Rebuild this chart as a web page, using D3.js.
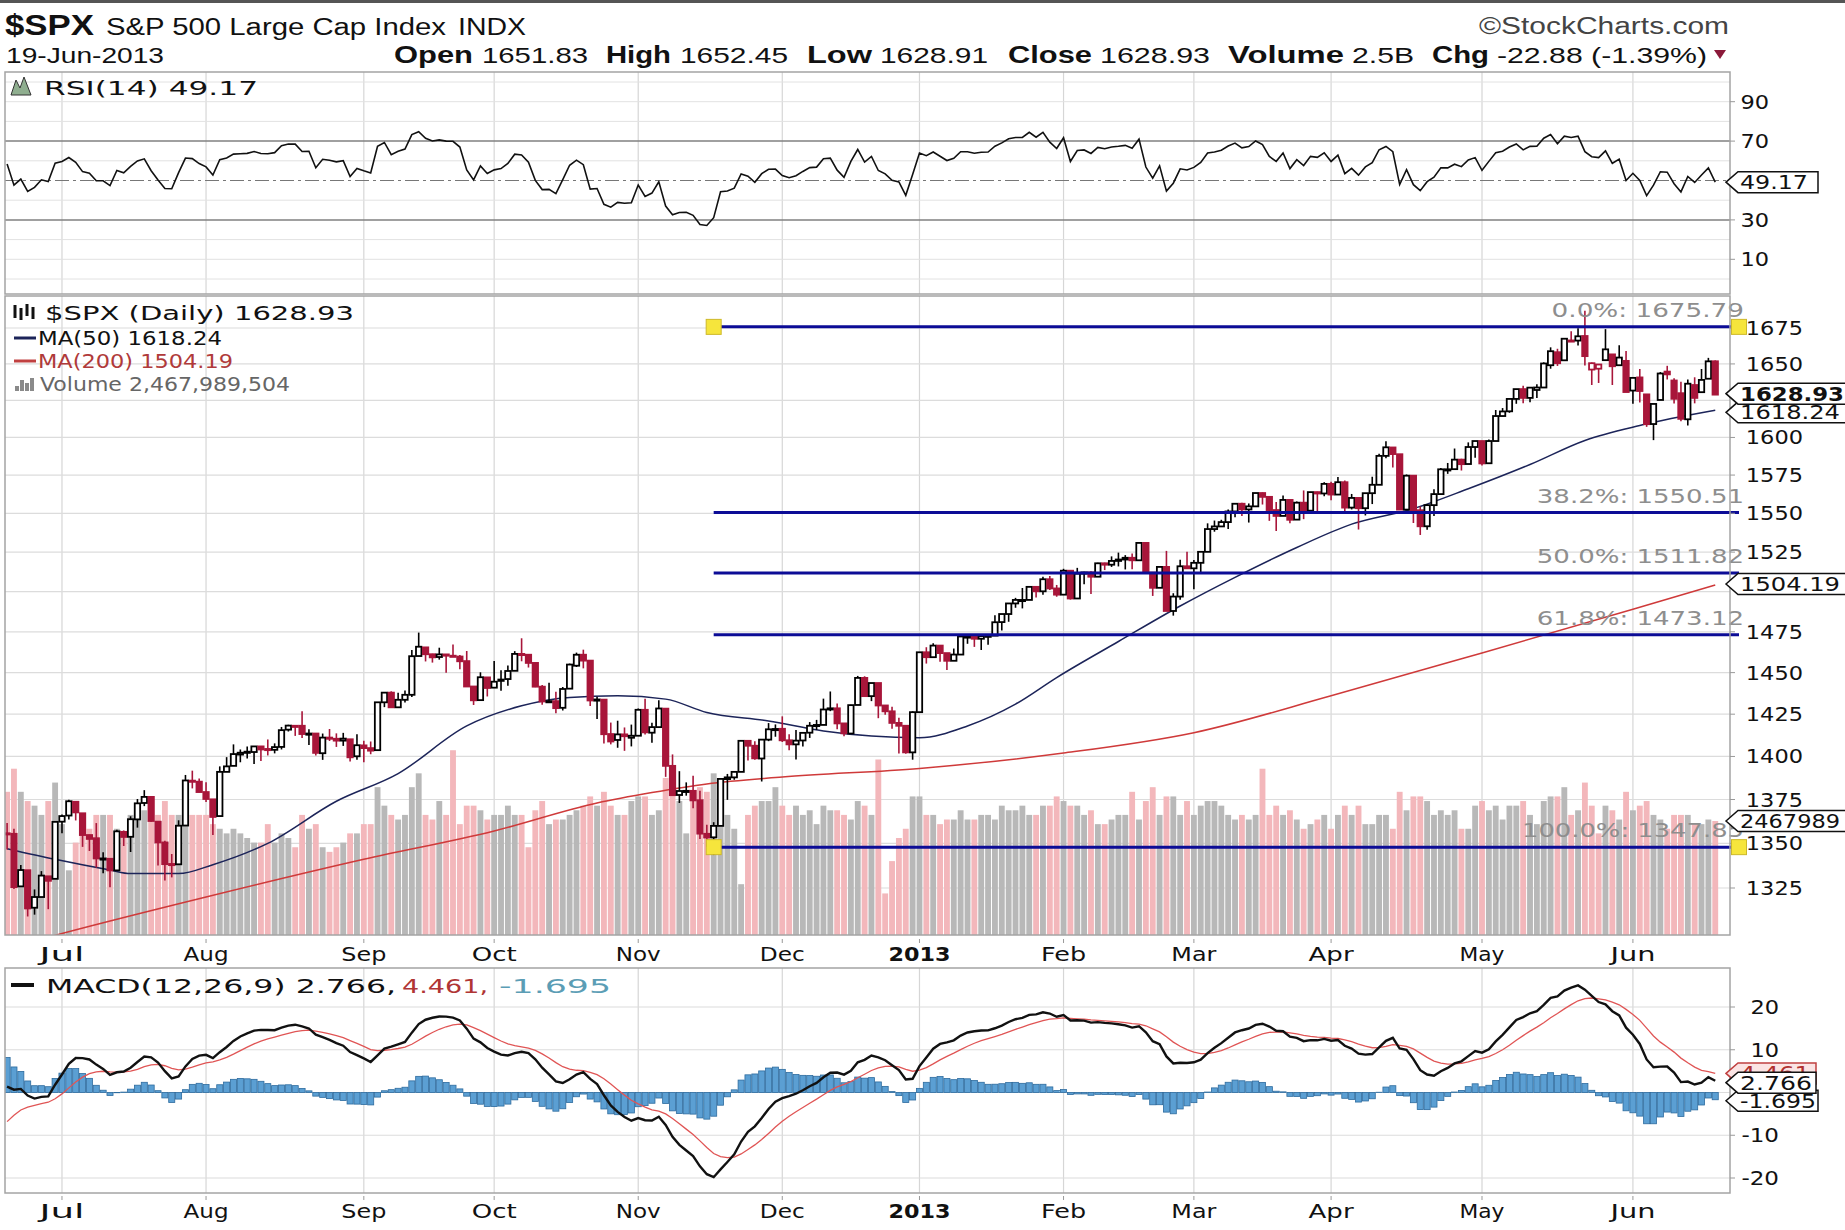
<!DOCTYPE html>
<html>
<head>
<meta charset="utf-8">
<script src="https://cdnjs.cloudflare.com/ajax/libs/d3/7.8.5/d3.min.js"></script>
<style>
body { margin: 0; background: #fff; }
svg { display: block; }
</style>
</head>
<body>
<div id="chart"></div>
<script>
// daily rows: [open, high, low, close, volume (billions)]
var ohlcJun12 = [
  [1355.4,1361.6,1346.5,1355.7,3.1],[1355.4,1358.3,1324.4,1325.5,3.6],[1325.9,1337.8,1325.9,1335.0,3.1],
  [1334.9,1334.9,1309.3,1313.7,2.9],[1314.1,1324.2,1310.3,1320.0,2.8],[1320.0,1334.4,1320.0,1331.9,2.6],
  [1331.5,1331.5,1313.3,1329.0,2.9],[1330.1,1362.2,1330.1,1362.2,3.3]];
var ohlcJul12 = [
  [1362.3,1366.4,1355.7,1365.5,2.4],[1365.8,1374.8,1363.5,1374.0,1.4],[1373.7,1373.9,1363.0,1367.6,2.0],
  [1367.1,1367.1,1348.0,1354.7,2.5],[1354.7,1354.9,1345.7,1352.5,2.3],[1352.9,1361.5,1336.3,1341.5,2.6],
  [1341.4,1345.0,1333.2,1341.5,2.6],[1341.3,1341.3,1325.4,1334.8,2.6],[1334.8,1357.7,1334.8,1356.8,2.3],
  [1356.5,1357.3,1348.5,1353.6,2.1],[1353.7,1365.4,1345.1,1363.7,2.6],[1363.6,1375.3,1358.9,1372.8,2.6],
  [1373.0,1380.4,1371.2,1376.5,2.7],[1376.5,1376.5,1362.2,1362.7,2.7],[1362.3,1362.3,1337.6,1350.5,2.6],
  [1350.5,1351.5,1329.2,1338.3,2.9],[1338.4,1344.0,1330.9,1337.9,2.6],[1338.2,1363.1,1338.2,1360.0,2.6],
  [1360.1,1389.2,1360.1,1386.0,3.0],[1385.9,1391.7,1381.4,1385.3,2.6],[1385.3,1387.2,1379.2,1379.3,2.6]];
var ohlcAug12 = [
  [1379.3,1385.0,1373.6,1375.3,2.6],[1375.1,1375.1,1354.7,1365.0,2.4],[1365.5,1394.2,1365.5,1391.0,2.3],
  [1391.0,1399.6,1391.0,1394.2,2.2],[1394.5,1407.1,1394.5,1401.4,2.3],[1401.1,1404.1,1396.6,1402.2,2.2],
  [1402.2,1405.9,1398.8,1402.8,2.1],[1402.6,1405.9,1395.6,1405.9,2.0],[1405.9,1405.9,1397.3,1404.1,2.0],
  [1404.4,1410.0,1400.6,1403.9,2.4],[1403.9,1407.7,1401.8,1405.5,2.0],[1405.6,1417.4,1404.1,1415.5,2.2],
  [1415.8,1418.7,1414.7,1418.2,2.1],[1417.9,1418.1,1412.1,1418.1,1.9],[1418.1,1426.7,1410.9,1413.2,2.6],
  [1413.1,1416.1,1406.8,1413.5,2.3],[1413.5,1413.5,1400.5,1402.1,2.4],[1401.9,1413.5,1398.0,1411.1,1.9],
  [1411.1,1416.2,1409.1,1410.4,1.8],[1410.4,1413.6,1405.6,1409.3,1.9],[1409.3,1413.9,1406.2,1410.5,2.0],
  [1410.1,1410.1,1397.0,1399.5,2.2],[1400.1,1413.1,1398.0,1406.6,2.2]];
var ohlcSep12 = [
  [1406.5,1409.3,1396.6,1404.9,2.4],[1404.9,1408.8,1401.3,1403.4,2.4],[1403.7,1432.1,1403.7,1432.1,3.2],
  [1432.1,1438.0,1429.2,1437.9,2.8],[1437.9,1438.7,1428.9,1429.1,2.6],[1429.1,1437.8,1429.1,1433.6,2.5],
  [1433.6,1439.2,1432.0,1436.6,2.6],[1436.6,1463.8,1435.3,1460.0,3.2],[1460.1,1474.5,1460.1,1465.8,3.5],
  [1465.4,1465.6,1456.8,1461.2,2.6],[1461.2,1461.5,1456.1,1459.3,2.5],[1459.5,1465.2,1457.9,1461.1,2.9],
  [1461.1,1461.2,1449.9,1460.3,2.6],[1460.3,1467.1,1459.5,1460.2,4.0],[1459.8,1460.7,1452.1,1456.9,2.4],
  [1457.0,1463.2,1441.6,1441.6,2.8],[1441.6,1441.6,1430.5,1433.3,2.8],[1433.4,1450.2,1433.4,1447.2,2.7],
  [1447.1,1447.1,1435.6,1440.7,2.5]];
var ohlcOct12 = [
  [1440.9,1457.1,1440.9,1444.5,2.6],[1445.0,1451.5,1439.0,1445.8,2.6],[1446.1,1454.3,1442.0,1451.0,2.8],
  [1451.1,1463.1,1451.1,1461.4,2.6],[1461.4,1471.0,1456.9,1460.9,2.6],[1460.9,1460.9,1453.1,1455.9,1.9],
  [1455.9,1455.9,1441.2,1441.5,2.7],[1441.5,1442.5,1430.6,1432.6,2.9],[1432.8,1443.9,1432.8,1432.8,2.4],
  [1432.8,1438.4,1425.5,1428.6,2.5],[1428.8,1441.3,1427.2,1440.1,2.5],[1440.3,1455.5,1440.3,1454.9,2.6],
  [1454.2,1462.2,1453.4,1460.9,2.7],[1460.9,1464.0,1452.6,1457.3,2.8],[1457.3,1457.3,1429.9,1433.2,3.0],
  [1433.2,1435.5,1422.1,1433.8,2.8],[1433.7,1433.7,1407.6,1413.1,3.1],[1413.2,1420.0,1407.1,1408.8,2.8],
  [1409.7,1421.1,1405.1,1413.0,2.6],[1413.0,1417.1,1403.3,1411.9,2.6],[1411.0,1418.8,1405.9,1412.2,2.9]];
var ohlcNov12 = [
  [1412.2,1428.4,1412.2,1427.6,3.0],[1427.6,1434.3,1412.9,1414.2,3.0],[1414.0,1419.9,1408.1,1417.3,2.6],
  [1417.3,1433.4,1417.3,1428.4,2.7],[1428.3,1428.3,1388.1,1394.5,3.4],[1394.5,1401.2,1377.5,1377.5,3.1],
  [1377.6,1391.4,1373.0,1379.9,2.9],[1379.9,1384.9,1377.2,1380.0,2.2],[1380.0,1388.8,1370.0,1374.5,2.9],
  [1374.6,1380.1,1352.5,1355.5,3.2],[1355.4,1360.6,1348.1,1353.3,3.1],[1353.4,1362.0,1343.4,1359.9,3.5],
  [1359.9,1386.9,1359.9,1386.9,2.6],[1386.8,1389.8,1374.8,1387.8,2.6],[1387.8,1391.3,1386.4,1391.0,2.3],
  [1391.0,1409.2,1391.0,1409.2,1.1],[1409.2,1409.2,1397.7,1406.3,2.6],[1406.3,1409.0,1398.0,1398.9,2.8],
  [1398.8,1410.0,1385.4,1409.9,2.9],[1409.9,1419.7,1409.0,1416.0,2.9],[1416.0,1418.9,1411.6,1416.2,3.2]];
var ohlcDec12 = [
  [1416.3,1423.7,1408.5,1409.5,2.8],[1409.5,1413.1,1403.7,1407.1,2.6],[1407.1,1415.6,1398.2,1409.3,2.8],
  [1409.4,1413.9,1405.9,1413.9,2.6],[1414.0,1420.3,1410.9,1418.1,2.7],[1418.1,1421.6,1415.6,1418.6,2.4],
  [1418.6,1434.3,1418.6,1427.8,2.8],[1427.8,1438.6,1426.8,1428.5,2.7],[1428.5,1431.4,1416.0,1419.5,2.7],
  [1419.5,1419.5,1411.9,1413.6,2.6],[1413.5,1430.7,1413.5,1430.4,2.5],[1430.5,1448.0,1430.5,1446.8,2.9],
  [1446.8,1447.8,1435.8,1435.8,2.8],[1435.8,1443.7,1432.8,1443.7,2.6],[1443.7,1443.7,1422.6,1430.2,3.8],
  [1430.2,1430.2,1424.7,1426.7,0.9],[1426.7,1429.4,1416.4,1419.8,1.6],[1419.8,1422.8,1401.8,1418.1,2.1],
  [1418.1,1418.1,1401.6,1402.4,2.3],[1402.4,1426.7,1398.1,1426.2,3.0]];
var ohlcJan13 = [
  [1426.2,1462.4,1426.2,1462.4,3.0],[1462.4,1465.5,1455.5,1459.4,2.6],[1459.4,1467.9,1459.0,1466.5,2.6],
  [1466.5,1466.5,1456.6,1461.9,2.4],[1461.9,1461.9,1451.6,1457.2,2.5],[1457.2,1464.7,1457.2,1461.0,2.5],
  [1461.0,1472.3,1461.0,1472.1,2.7],[1472.1,1472.8,1467.6,1472.1,2.5],[1472.1,1472.1,1465.7,1470.7,2.5],
  [1470.7,1473.3,1463.8,1472.3,2.6],[1472.3,1473.0,1467.0,1472.6,2.6],[1472.6,1485.2,1472.6,1480.9,2.5],
  [1481.0,1486.0,1475.8,1486.0,2.8],[1486.0,1492.6,1481.2,1492.6,2.7],[1492.6,1496.1,1489.9,1494.8,2.7],
  [1494.8,1502.3,1489.5,1494.8,2.8],[1494.8,1503.3,1494.8,1503.0,2.6],[1503.0,1503.2,1496.3,1500.2,2.6],
  [1500.2,1509.3,1498.1,1507.8,2.8],[1507.8,1509.9,1501.0,1502.0,2.8],[1502.0,1504.2,1496.8,1498.1,3.0]];
var ohlcFeb13 = [
  [1498.1,1514.4,1498.1,1513.2,2.9],[1513.2,1513.2,1495.0,1495.7,2.8],[1495.7,1515.0,1495.7,1511.3,2.8],
  [1511.3,1512.5,1504.7,1512.1,2.6],[1512.1,1512.9,1498.5,1509.4,2.7],[1509.4,1518.3,1509.4,1517.9,2.4],
  [1517.9,1518.3,1513.6,1517.0,2.4],[1517.0,1522.3,1515.6,1519.4,2.5],[1519.4,1524.7,1515.9,1520.3,2.6],
  [1520.3,1523.1,1514.0,1521.4,2.6],[1521.4,1524.2,1514.1,1519.8,3.1],[1519.8,1530.9,1519.8,1530.9,2.5],
  [1530.9,1530.9,1511.4,1512.0,2.9],[1512.0,1512.0,1497.3,1502.4,3.2],[1502.4,1515.6,1502.4,1515.6,2.6],
  [1515.6,1525.8,1487.9,1487.9,3.0],[1487.9,1499.0,1485.0,1496.9,3.0],[1496.9,1520.1,1494.9,1516.0,2.6],
  [1516.0,1525.3,1514.5,1514.7,2.9]];
var ohlcMar13 = [
  [1514.7,1520.0,1501.5,1518.2,2.6],[1518.2,1525.3,1512.3,1525.2,2.8],[1525.2,1543.5,1525.2,1539.8,2.9],
  [1539.8,1545.3,1538.1,1541.5,2.9],[1541.5,1545.8,1541.5,1544.3,2.8],[1544.3,1552.5,1539.9,1551.2,2.6],
  [1551.2,1556.3,1547.4,1556.2,2.5],[1556.2,1556.8,1548.2,1552.5,2.6],[1552.5,1556.4,1544.0,1554.5,2.5],
  [1554.5,1563.3,1554.5,1563.2,2.6],[1563.2,1563.6,1555.7,1560.7,3.6],[1560.7,1560.7,1545.1,1552.1,2.6],
  [1552.1,1557.3,1538.6,1548.3,2.8],[1548.3,1561.6,1548.3,1558.7,2.6],[1558.7,1558.7,1543.6,1545.8,2.7],
  [1545.9,1557.7,1545.9,1556.9,2.5],[1556.9,1564.9,1546.2,1551.7,2.3],[1551.7,1563.9,1551.7,1563.8,2.4],
  [1563.8,1564.1,1551.5,1562.9,2.5],[1562.9,1570.3,1561.1,1569.2,2.6]];
var ohlcApr13 = [
  [1569.2,1570.6,1558.5,1562.2,2.3],[1562.2,1573.7,1562.2,1570.3,2.6],[1570.3,1571.5,1549.8,1553.7,2.8],
  [1553.7,1562.6,1552.5,1560.0,2.6],[1560.0,1560.0,1539.5,1553.3,2.8],[1553.3,1563.1,1548.6,1563.1,2.4],
  [1563.1,1573.9,1556.0,1568.6,2.4],[1568.6,1589.1,1568.6,1587.7,2.6],[1587.7,1597.4,1586.2,1593.4,2.6],
  [1593.3,1593.3,1580.0,1588.9,2.3],[1588.8,1588.8,1552.3,1552.4,3.1],[1552.4,1575.4,1552.4,1574.6,2.7],
  [1574.6,1574.6,1543.7,1552.0,3.0],[1552.0,1554.4,1536.0,1541.6,3.0],[1541.6,1555.9,1539.4,1555.3,2.9],
  [1555.3,1565.6,1548.2,1562.5,2.6],[1562.5,1579.6,1562.5,1578.8,2.7],[1578.8,1583.0,1575.8,1578.8,2.6],
  [1578.9,1592.6,1578.9,1585.2,2.7],[1585.2,1585.8,1578.0,1582.2,2.3],[1582.3,1596.7,1582.3,1593.6,2.3],
  [1593.6,1597.6,1586.5,1597.6,2.8]];
var ohlcMay13 = [
  [1597.6,1597.6,1581.3,1582.7,2.9],[1582.8,1598.6,1582.8,1597.6,2.7],[1597.6,1618.5,1597.6,1614.4,2.8],
  [1614.4,1619.8,1614.2,1617.5,2.5],[1617.6,1626.0,1616.6,1626.0,2.8],[1626.0,1632.8,1622.7,1632.7,2.8],
  [1632.7,1635.0,1623.1,1626.7,2.9],[1626.7,1633.7,1623.7,1633.7,2.6],[1632.1,1636.0,1626.7,1633.8,2.4],
  [1633.8,1651.1,1633.8,1650.3,2.9],[1649.1,1661.5,1646.7,1658.8,3.0],[1658.1,1660.5,1648.6,1650.5,3.0],
  [1652.5,1667.5,1652.5,1667.5,3.2],[1665.7,1672.8,1666.3,1666.3,2.6],[1666.2,1674.9,1662.7,1669.2,2.7],
  [1669.4,1687.2,1648.9,1655.4,3.3],[1646.1,1651.0,1635.5,1650.5,2.8],[1646.7,1649.8,1636.9,1649.6,2.2],
  [1652.6,1674.2,1652.6,1660.1,2.8],[1656.6,1656.6,1635.5,1648.4,2.7],[1649.1,1662.9,1649.1,1654.4,2.5],
  [1652.1,1659.0,1630.7,1630.7,3.1]];
var ohlcJun13 = [
  [1631.7,1640.4,1622.7,1640.4,2.7],[1640.7,1646.5,1623.6,1631.4,2.8],[1629.1,1629.3,1607.1,1608.9,2.9],
  [1609.0,1622.6,1598.2,1622.6,2.6],[1625.3,1644.4,1625.3,1643.4,2.5],[1644.7,1648.7,1639.3,1642.8,2.3],
  [1638.6,1640.1,1622.9,1626.1,2.6],[1629.9,1637.7,1610.9,1612.5,2.6],[1612.2,1639.3,1608.1,1636.4,2.6],
  [1635.5,1640.8,1623.0,1626.7,2.4],[1630.6,1646.5,1630.3,1639.0,2.4],[1639.8,1654.2,1639.8,1651.8,2.5],
  [1651.83,1652.45,1628.91,1628.93,2.468]];

// closes before the first plotted day (Apr 2 - Jun 19 2012), used only for RSI / MACD warm-up
var warmupCloses = [1419.0,1413.4,1399.0,1398.1,1382.2,1358.6,1368.7,1387.6,1370.3,1369.6,1390.8,1385.1,1376.9,1378.5,
  1366.9,1372.0,1390.7,1400.0,1403.4,1397.9,
  1405.8,1402.3,1391.6,1369.1,1369.6,1363.7,1354.6,1358.0,1353.4,1338.4,1330.7,1324.8,1304.9,1295.2,1316.0,1316.6,
  1318.9,1320.7,1317.8,1332.4,1313.3,1310.3,
  1278.0,1278.2,1285.5,1315.1,1315.0,1325.7,1308.9,1324.2,1314.9,1329.1,1342.8,1344.8,1358.0];

var monthNames = [null, "Jul", "Aug", "Sep", "Oct", "Nov", "Dec", "2013", "Feb", "Mar", "Apr", "May", "Jun"];
var monthRows = [ohlcJun12, ohlcJul12, ohlcAug12, ohlcSep12, ohlcOct12, ohlcNov12, ohlcDec12,
  ohlcJan13, ohlcFeb13, ohlcMar13, ohlcApr13, ohlcMay13, ohlcJun13];

// moving averages: [day index, value]
var ma50Points = [[0,1347],[7,1341],[15,1335],[18,1333],[25,1333],[30,1338],[38,1350],[48,1374],[57,1390],
  [67,1418],[75,1430],[82,1435],[89,1436],[96,1434],[102,1426],[111,1421],[119,1415],[126,1412],[133,1411],
  [140,1418],[147,1431],[153,1447],[162,1469],[171,1491],[179,1509],[188,1528],[196,1543],[205,1553],
  [213,1566],[222,1582],[230,1598],[238,1608],[249,1618.24]];
var ma200Points = [[0,1292],[8,1300],[29,1320],[52,1341],[71,1357],[86,1373],[94,1379],[102,1384],[113,1388],
  [133,1393],[154,1402],[173,1414],[193,1436],[215,1462],[237,1489],[249,1504.19]];

var fibLevels = [["0.0%", 1675.79], ["38.2%", 1550.51], ["50.0%", 1511.82], ["61.8%", 1473.12], ["100.0%", 1347.85]];
var fibStartDay = 103;

var priceTicks = [1325,1350,1375,1400,1425,1450,1475,1500,1525,1550,1575,1600,1625,1650,1675];
var priceLabels = [1325,1350,1375,1400,1425,1450,1475,1525,1550,1575,1600,1650,1675];
var rsiLabels = [10,30,70,90];
var rsiGrid = [0,10,20,40,60,80,90,100];
var macdTicks = [-20,-10,0,10,20];
var macdLabels = [-20,-10,10,20];

var headerStats = [["Open","1651.83"],["High","1652.45"],["Low","1628.91"],["Close","1628.93"],["Volume","2.5B"],["Chg","-22.88 (-1.39%)"]];

// ---------------------------------------------------------------
var W = 1845, H = 1230;
var L = 5, R = 1730;
var rsiTop = 72, rsiBot = 294, pTop = 296, pBot = 935, mTop = 968, mBot = 1193;
var red = "#a8163a";

var candles = [], monthStart = [];
monthRows.forEach(function (rows) { monthStart.push(candles.length); candles = candles.concat(rows); });
var N = candles.length;

var svg = d3.select("#chart").append("svg").attr("width", W).attr("height", H);
svg.append("rect").attr("width", W).attr("height", H).attr("fill", "#fff");
svg.append("rect").attr("width", W).attr("height", 3).attr("fill", "#555");

var x = d3.scaleLinear().domain([0, N - 1]).range([7.1, 7.1 + (N - 1) * 6.86]);
var step = 6.86;
var y = d3.scaleLog().domain([1325, 1675]).range([888, 328]);
var yVol = d3.scaleLinear().domain([0, 2.468]).range([pBot, 821]);
var yRsi = d3.scaleLinear().domain([0, 100]).range([279, 82]);
var yMacd = d3.scaleLinear().domain([-20, 20]).range([1178, 1007]);

function tx(g, s, px, py, o) {
  o = o || {};
  var t = g.append("text").attr("x", px).attr("y", py).text(s)
    .attr("font-family", o.family || "DejaVu Sans")
    .attr("font-size", o.size || 19)
    .attr("font-weight", o.bold ? "bold" : null)
    .attr("fill", o.fill || "#111")
    .attr("text-anchor", o.anchor || "start");
  if (o.w) t.attr("textLength", o.w).attr("lengthAdjust", "spacingAndGlyphs");
  return t;
}

// indicators
var allCloses = warmupCloses.concat(candles.map(function (d) { return d[3]; }));
function ema(a, n) {
  var k = 2 / (n + 1), e = a[0];
  return a.map(function (v, i) { e = i ? v * k + e * (1 - k) : v; return e; });
}
function rsi(c, n) {
  var out = [], g = 0, l = 0;
  for (var i = 1; i < c.length; i++) {
    var ch = c[i] - c[i - 1], up = Math.max(ch, 0), dn = Math.max(-ch, 0);
    if (i <= n) { g += up / n; l += dn / n; } else { g = (g * (n - 1) + up) / n; l = (l * (n - 1) + dn) / n; }
    out[i] = 100 - 100 / (1 + g / l);
  }
  return out;
}
var off = warmupCloses.length;
var rsiVals = rsi(allCloses, 14).slice(off);
var e12 = ema(allCloses, 12), e26 = ema(allCloses, 26);
var macdAll = e12.map(function (v, i) { return v - e26[i]; });
var sigAll = ema(macdAll, 9);
var macdVals = macdAll.slice(off), sigVals = sigAll.slice(off);

// clips
var defs = svg.append("defs");
[["clipR", rsiTop, rsiBot], ["clipP", pTop, pBot], ["clipM", mTop, mBot]].forEach(function (c) {
  defs.append("clipPath").attr("id", c[0]).append("rect")
    .attr("x", L).attr("y", c[1]).attr("width", R - L).attr("height", c[2] - c[1]);
});

// panel grids
function vgrid(top, bot) {
  svg.append("g").selectAll("line").data(monthStart.slice(1)).enter().append("line")
    .attr("x1", function (i) { return x(i); }).attr("x2", function (i) { return x(i); })
    .attr("y1", top).attr("y2", bot).attr("stroke", "#d6d6d6").attr("stroke-width", 1.2);
}
vgrid(rsiTop, rsiBot); vgrid(pTop, pBot); vgrid(mTop, mBot);

svg.append("g").selectAll("line").data(rsiGrid).enter().append("line")
  .attr("x1", L).attr("x2", R).attr("y1", yRsi).attr("y2", yRsi).attr("stroke", "#e2e2e2");
svg.append("g").selectAll("line").data([30, 70]).enter().append("line")
  .attr("x1", L).attr("x2", R).attr("y1", yRsi).attr("y2", yRsi).attr("stroke", "#808080").attr("stroke-width", 1.5);
svg.append("line").attr("x1", L).attr("x2", R).attr("y1", yRsi(50)).attr("y2", yRsi(50))
  .attr("stroke", "#777").attr("stroke-width", 1.2).attr("stroke-dasharray", "14,4,3,4");

svg.append("g").selectAll("line").data(priceTicks).enter().append("line")
  .attr("x1", L).attr("x2", R).attr("y1", y).attr("y2", y).attr("stroke", "#dcdcdc").attr("stroke-width", 1.2);
svg.append("g").selectAll("line").data(macdTicks).enter().append("line")
  .attr("x1", L).attr("x2", R).attr("y1", yMacd).attr("y2", yMacd).attr("stroke", "#dcdcdc").attr("stroke-width", 1.2);

// RSI line
svg.append("path").datum(rsiVals).attr("clip-path", "url(#clipR)")
  .attr("d", d3.line().x(function (d, i) { return x(i); }).y(function (d) { return yRsi(d); }))
  .attr("fill", "none").attr("stroke", "#111").attr("stroke-width", 1.6);

// price panel
var pg = svg.append("g").attr("clip-path", "url(#clipP)");
function prevClose(i) { return i ? candles[i - 1][3] : warmupCloses[warmupCloses.length - 1]; }

pg.append("g").selectAll("rect").data(candles).enter().append("rect")
  .attr("x", function (d, i) { return x(i) - step / 2 + 0.5; })
  .attr("width", step - 1)
  .attr("y", function (d) { return yVol(d[4]); })
  .attr("height", function (d) { return pBot - yVol(d[4]); })
  .attr("fill", function (d, i) { return d[3] >= prevClose(i) ? "#b8b8b8" : "#f3b7bb"; });

pg.append("path").datum(ma200Points)
  .attr("d", d3.line().curve(d3.curveMonotoneX).x(function (d) { return x(d[0]); }).y(function (d) { return y(d[1]); }))
  .attr("fill", "none").attr("stroke", "#cf3a3a").attr("stroke-width", 1.5);
pg.append("path").datum(ma50Points)
  .attr("d", d3.line().curve(d3.curveMonotoneX).x(function (d) { return x(d[0]); }).y(function (d) { return y(d[1]); }))
  .attr("fill", "none").attr("stroke", "#1c2459").attr("stroke-width", 1.5);

var fx0 = x(fibStartDay), fx1 = R + 9;
svg.append("g").selectAll("line").data(fibLevels).enter().append("line")
  .attr("x1", fx0).attr("x2", fx1).attr("y1", function (d) { return y(d[1]); }).attr("y2", function (d) { return y(d[1]); })
  .attr("stroke", "#0c0c96").attr("stroke-width", 3);

var cg = pg.append("g");
candles.forEach(function (d, i) {
  var col = d[3] >= prevClose(i) ? "#000" : red;
  var hollow = d[3] > d[0];
  cg.append("line").attr("x1", x(i)).attr("x2", x(i)).attr("y1", y(d[1])).attr("y2", y(d[2]))
    .attr("stroke", col).attr("stroke-width", 1.6);
  var top = y(Math.max(d[0], d[3])), bot = y(Math.min(d[0], d[3]));
  cg.append("rect").attr("x", x(i) - 2.7).attr("width", 5.4)
    .attr("y", top).attr("height", Math.max(bot - top, 1.2))
    .attr("fill", hollow ? "#fff" : col).attr("stroke", col).attr("stroke-width", 1.8);
});

fibLevels.forEach(function (d) {
  var s = d[0] + ": " + d3.format(".2f")(d[1]);
  tx(svg, s, 1744, y(d[1]) - 10, { anchor: "end", fill: "#8e8e8e", w: s.length * 14.8 });
});

// macd panel
var mg = svg.append("g").attr("clip-path", "url(#clipM)");
mg.append("g").selectAll("rect").data(macdVals).enter().append("rect")
  .attr("x", function (d, i) { return x(i) - step / 2 + 0.4; })
  .attr("width", step - 0.8)
  .attr("y", function (d, i) { return Math.min(yMacd(d - sigVals[i]), yMacd(0)); })
  .attr("height", function (d, i) { return Math.abs(yMacd(d - sigVals[i]) - yMacd(0)); })
  .attr("fill", "#5b9fd3").attr("stroke", "#2d6b9e").attr("stroke-width", 0.8);
mg.append("path").datum(sigVals)
  .attr("d", d3.line().x(function (d, i) { return x(i); }).y(function (d) { return yMacd(d); }))
  .attr("fill", "none").attr("stroke", "#e05555").attr("stroke-width", 1.3);
mg.append("path").datum(macdVals)
  .attr("d", d3.line().x(function (d, i) { return x(i); }).y(function (d) { return yMacd(d); }))
  .attr("fill", "none").attr("stroke", "#111").attr("stroke-width", 2.4);

// panel borders
[[rsiTop, rsiBot], [pTop, pBot], [mTop, mBot]].forEach(function (p) {
  svg.append("rect").attr("x", L).attr("y", p[0]).attr("width", R - L).attr("height", p[1] - p[0])
    .attr("fill", "none").attr("stroke", "#a4a4a4").attr("stroke-width", 1.5);
});

// right axes
function axisLabels(ticks, sc, xEnd) {
  ticks.forEach(function (t) {
    var s = String(t);
    svg.append("line").attr("x1", R).attr("x2", R + 5).attr("y1", sc(t)).attr("y2", sc(t)).attr("stroke", "#999");
    tx(svg, s, xEnd, sc(t) + 7, { anchor: "end", w: s.replace("-", "").length * 14.3 + (t < 0 ? 9 : 0) });
  });
}
axisLabels(rsiLabels, yRsi, 1769);
axisLabels(priceLabels, y, 1803);
axisLabels(macdLabels, yMacd, 1779);

// date axes
function dateLabels(py) {
  monthStart.forEach(function (i, k) {
    var s = monthNames[k];
    if (!s) return;
    svg.append("line").attr("x1", x(i)).attr("x2", x(i)).attr("y1", py - 22).attr("y2", py - 18).attr("stroke", "#999");
    tx(svg, s, x(i), py, { anchor: "middle", bold: s.length === 4, w: s.length === 4 ? 62 : 45 });
  });
}
dateLabels(961);
dateLabels(1218);

// fib anchor squares
[fibLevels[0][1], fibLevels[4][1]].forEach(function (v) {
  [fx0, fx1].forEach(function (px) {
    svg.append("rect").attr("x", px - 7.5).attr("y", y(v) - 7.5).attr("width", 15).attr("height", 15)
      .attr("fill", "#f6e53c").attr("stroke", "#cdb92a");
  });
});

// value tags on the right
function tag(py, s, o) {
  o = o || {};
  var bx = 1738, w = o.bw || 80, h = 21, t = 1726;
  svg.append("path")
    .attr("d", "M" + t + "," + py + "L" + bx + "," + (py - h / 2) + "H" + (bx + w) + "V" + (py + h / 2) + "H" + bx + "Z")
    .attr("fill", o.fill || "#fff").attr("stroke", o.stroke || "#111").attr("stroke-width", 1.5);
  tx(svg, s, bx + 2, py + 7, { bold: o.bold, w: o.w, fill: o.color || "#111", size: o.bold ? 20 : 19 });
}
tag(yRsi(49.17), "49.17", { bw: 80, w: 68 });
tag(y(1618.24) + 2, "1618.24", { bw: 110, w: 100 });
tag(y(1628.93) - 1, "1628.93", { bw: 110, w: 104, bold: true });
tag(y(1504.19) - 1, "1504.19", { bw: 110, w: 100 });
tag(yVol(2.468), "2467989", { bw: 110, w: 100 });
tag(yMacd(4.461), "4.461", { bw: 78, w: 70, stroke: "#c04040", fill: "#fbe4e4", color: "#b03030" });
tag(yMacd(-1.695) + 1, "-1.695", { bw: 80, w: 76 });
tag(yMacd(2.766) + 2, "2.766", { bw: 78, w: 72 });

// header
tx(svg, "$SPX", 5, 35, { family: "Liberation Sans", size: 30, bold: true, w: 89 });
tx(svg, "S&P 500 Large Cap Index", 106, 35, { family: "Liberation Sans", size: 23, w: 340 });
tx(svg, "INDX", 458, 35, { family: "Liberation Sans", size: 23, w: 68 });
tx(svg, "\u00a9StockCharts.com", 1479, 34, { family: "Liberation Sans", size: 23, w: 250, fill: "#444" });
tx(svg, "19-Jun-2013", 6, 63, { family: "Liberation Sans", size: 22, w: 158 });
var hdrPos = [[394, 79, 482, 106], [606, 65, 680, 108], [807, 65, 880, 108], [1008, 84, 1100, 110],
  [1228, 116, 1352, 62], [1432, 57, 1497, 210]];
headerStats.forEach(function (d, k) {
  var p = hdrPos[k];
  tx(svg, d[0], p[0], 63, { family: "Liberation Sans", size: 23, bold: true, w: p[1] });
  tx(svg, d[1], p[2], 63, { family: "Liberation Sans", size: 22, w: p[3] });
});
svg.append("path").attr("d", "M1714,50H1726L1720,59Z").attr("fill", "#8b1a3a");

// legends
svg.append("path").attr("d", "M11,95L16,80L20,88L24,77L31,95Z").attr("fill", "#8fae8f").attr("stroke", "#333");
tx(svg, "RSI(14) 49.17", 44, 95, { w: 214 });

[[15, 305, 318], [21, 308, 320], [27, 304, 316], [33, 307, 319]].forEach(function (c) {
  svg.append("line").attr("x1", c[0]).attr("x2", c[0]).attr("y1", c[1]).attr("y2", c[2]).attr("stroke", "#111").attr("stroke-width", 3);
});
tx(svg, "$SPX (Daily) 1628.93", 45, 320, { w: 309 });
svg.append("line").attr("x1", 14).attr("x2", 36).attr("y1", 338).attr("y2", 338).attr("stroke", "#1c2459").attr("stroke-width", 3);
tx(svg, "MA(50) 1618.24", 38, 345, { w: 184 });
svg.append("line").attr("x1", 14).attr("x2", 36).attr("y1", 361).attr("y2", 361).attr("stroke", "#c04040").attr("stroke-width", 3);
tx(svg, "MA(200) 1504.19", 38, 368, { w: 195, fill: "#b03a3a" });
[[15, 386], [20, 380], [25, 383], [30, 378]].forEach(function (c) {
  svg.append("rect").attr("x", c[0]).attr("y", c[1]).attr("width", 4).attr("height", 391 - c[1]).attr("fill", "#8a8a8a");
});
tx(svg, "Volume 2,467,989,504", 40, 391, { w: 250, fill: "#666" });

svg.append("line").attr("x1", 11).attr("x2", 34).attr("y1", 985).attr("y2", 985).attr("stroke", "#111").attr("stroke-width", 4);
tx(svg, "MACD(12,26,9) 2.766,", 46, 993, { w: 350 });
tx(svg, "4.461,", 402, 993, { w: 86, fill: "#b03535" });
tx(svg, "-1.695", 499, 993, { w: 112, fill: "#5b9db5" });
</script>
</body>
</html>
